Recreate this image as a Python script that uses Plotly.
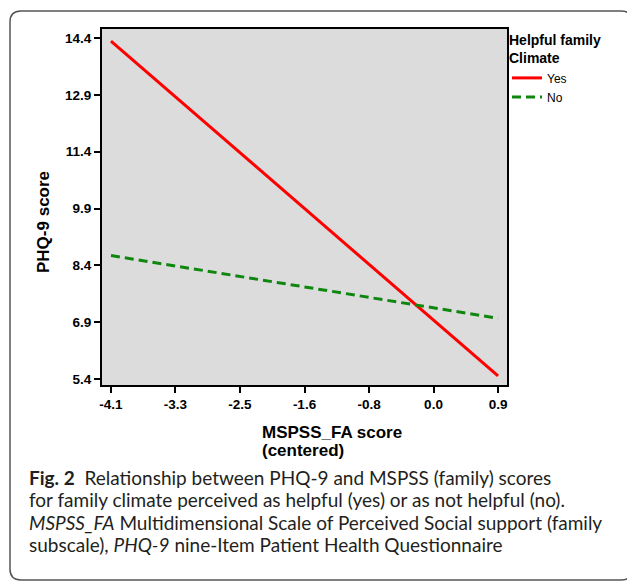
import plotly.graph_objects as go
import numpy as np

# ---- data ----
x_ends = [-4.13, 0.87]
yes_scores = [14.32, 5.48]
no_scores = [8.66, 7.00]
x_tick_labels = ["-4.1", "-3.3", "-2.5", "-1.6", "-0.8", "0.0", "0.9"]
y_tick_labels = ["5.4", "6.9", "8.4", "9.9", "11.4", "12.9", "14.4"]
series_names = ["Yes", "No"]
legend_title = "Helpful family<br>Climate"
x_title_lines = ["MSPSS_FA score", "(centered)"]
y_title = "PHQ-9 score"
caption_lines = [
    "<b>Fig. 2</b>  Relationship between PHQ-9 and MSPSS (family) scores",
    "for family climate perceived as helpful (yes) or as not helpful (no).",
    "<i>MSPSS_FA</i> Multidimensional Scale of Perceived Social support (family",
    "subscale), <i>PHQ-9</i> nine-Item Patient Health Questionnaire",
]

# ---- layout geometry (pixels) ----
W, H = 627, 582
L, R, T, B = 102, 507, 29, 385


def px(x):
    return (x - L) / (R - L)


def py(y):
    return (B - y) / (B - T)


x_tickvals = list(np.linspace(x_ends[0], x_ends[1], len(x_tick_labels)))
y_tickvals = [float(v) for v in y_tick_labels]

fig = go.Figure()
fig.add_trace(go.Scatter(x=x_ends, y=yes_scores, mode="lines", name=series_names[0],
                         line=dict(color="#ff0000", width=3)))
fig.add_trace(go.Scatter(x=x_ends, y=no_scores, mode="lines", name=series_names[1],
                         line=dict(color="#0f870f", width=3, dash="9px,5px")))

axis_font = dict(family="Liberation Sans, Arial, sans-serif", size=13.5, color="black", weight="bold")

fig.update_xaxes(range=[-4.246, 0.986], tickvals=x_tickvals, ticktext=x_tick_labels,
                 showgrid=False, zeroline=False, showline=True, mirror=True,
                 linecolor="black", linewidth=2, ticks="outside", ticklen=6,
                 tickwidth=1.5, tickcolor="black", tickfont=axis_font)
fig.update_yaxes(range=[5.24, 14.64], tickvals=y_tickvals, ticktext=y_tick_labels,
                 showgrid=False, zeroline=False, showline=True, mirror=True,
                 linecolor="black", linewidth=2, ticks="outside", ticklen=6,
                 tickwidth=1.5, tickcolor="black", tickfont=axis_font)

# rounded frame
x0, y0, x1, y1, r = 10, 11, 632, 580, 11
path = (f"M {px(x0)},{py(y0 + r)} Q {px(x0)},{py(y0)} {px(x0 + r)},{py(y0)} "
        f"L {px(x1 - r)},{py(y0)} Q {px(x1)},{py(y0)} {px(x1)},{py(y0 + r)} "
        f"L {px(x1)},{py(y1 - r)} Q {px(x1)},{py(y1)} {px(x1 - r)},{py(y1)} "
        f"L {px(x0 + r)},{py(y1)} Q {px(x0)},{py(y1)} {px(x0)},{py(y1 - r)} Z")
fig.add_shape(type="path", path=path, xref="paper", yref="paper",
              line=dict(color="#555555", width=1.5), layer="below")

title_font = dict(family="Liberation Sans, Arial, sans-serif", size=17, color="black")
ann = []
ann.append(dict(x=px(260), y=py(432), text=f"<b>{x_title_lines[0]}</b>", showarrow=False,
                xref="paper", yref="paper", xanchor="left", yanchor="middle", font=title_font))
ann.append(dict(x=px(260), y=py(450), text=f"<b>{x_title_lines[1]}</b>", showarrow=False,
                xref="paper", yref="paper", xanchor="left", yanchor="middle", font=title_font))
ann.append(dict(x=px(43), y=py(222), text=f"<b>{y_title}</b>", showarrow=False, textangle=-90,
                xref="paper", yref="paper", xanchor="center", yanchor="middle", font=title_font))

cap_font = dict(family="Lato, sans-serif", size=19, color="#231f20")
cap_y = [477, 499.5, 522, 544.5]
for line, yy in zip(caption_lines, cap_y):
    ann.append(dict(x=px(27), y=py(yy), text=line, showarrow=False, xref="paper", yref="paper",
                    xanchor="left", yanchor="middle", font=cap_font))

fig.update_layout(
    width=W, height=H,
    margin=dict(l=L, r=W - R, t=T, b=H - B, pad=0),
    paper_bgcolor="white", plot_bgcolor="#dcdcdc",
    showlegend=True,
    legend=dict(x=px(507), y=py(27), xanchor="left", yanchor="top",
                title=dict(text=f"<b>{legend_title}</b>",
                           font=dict(family="Liberation Sans, Arial, sans-serif", size=14, color="black")),
                font=dict(family="Liberation Sans, Arial, sans-serif", size=12, color="black"),
                bgcolor="rgba(0,0,0,0)", itemwidth=30, tracegroupgap=0),
    annotations=ann,
)

fig.write_html("out.html", config={"displayModeBar": False},
               post_script="document.body.style.margin='0';")
